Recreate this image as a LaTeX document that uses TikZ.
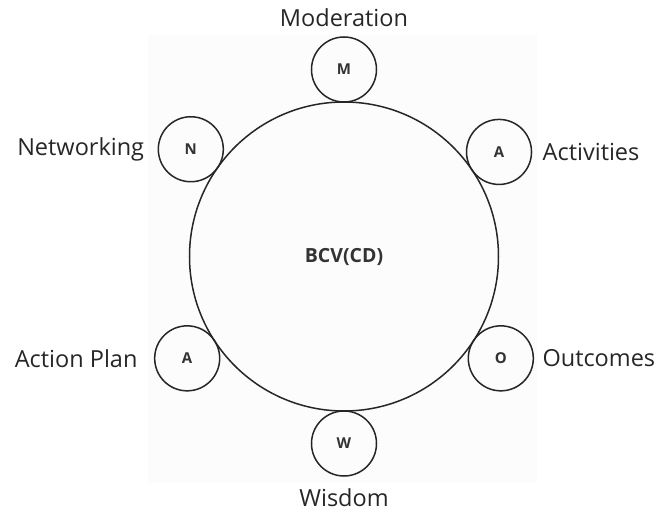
\documentclass[tikz,border=0pt]{standalone}
\usepackage{fontspec}
\setmainfont{Open Sans}
\usetikzlibrary{positioning}

\tikzset{
  ring/.style  = {draw=black!85, line width=1.5pt, circle, outer sep=0pt, inner sep=0pt},
  letter/.style = {ring, minimum size=65pt, font=\fontsize{15}{15}\selectfont\bfseries, text=black!80},
  lab/.style   = {inner sep=0pt, font=\fontsize{23.5}{23.5}\selectfont, text=black!85}
}

\begin{document}
\begin{tikzpicture}[x=1pt, y=1pt, node distance = 12pt and 12pt]
\useasboundingbox (-344,-257.5) rectangle (315,256.5);
\fill[black!1.2] (-196,222.5) rectangle (193,-226.5);
%
\node (bcv) [ring, minimum size=309pt, font=\fontsize{19.5}{19.5}\selectfont\bfseries, text=black!80] at (0,0) {BCV(CD)};
%
\foreach \ang/\opp/\nm/\txt in {90/270/m/M, 145/325/n/N, 34/214/ac/A, 213/33/ap/A, 327/147/o/O, 270/90/w/W}
  \node (\nm) [letter, anchor=\opp] at (bcv.\ang) {\txt};
%
\node (modlab) [lab, above=10pt of m]     {Moderation};
\node (netlab) [lab, left=14pt of n]      {Networking};
\node (actlab) [lab, right=11pt of ac]    {Activities};
\node (aplab)  [lab, left=17pt of ap]     {Action Plan};
\node (outlab) [lab, right=9pt of o]      {Outcomes};
\node (wislab) [lab, below=12pt of w]     {Wisdom};
\end{tikzpicture}
\end{document}
